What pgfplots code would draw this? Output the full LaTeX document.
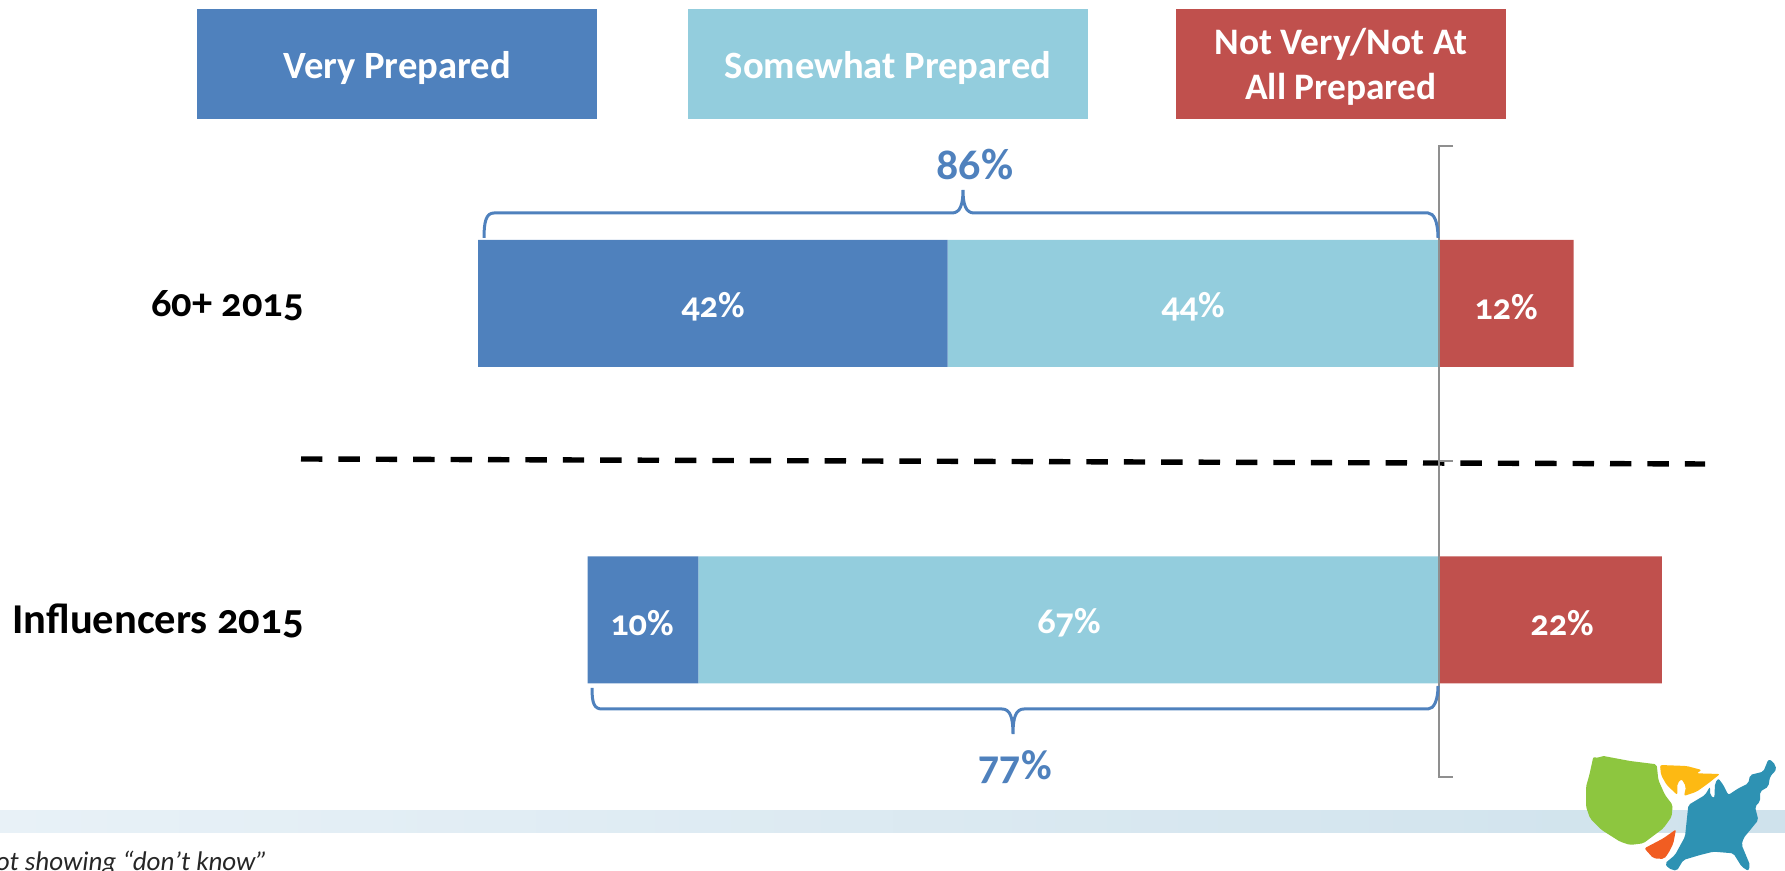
\documentclass[border=0pt]{standalone}
\usepackage{fontspec}
\setmainfont[Numbers=OldStyle]{Carlito}
\usepackage{pgfplots}
\usepackage{pgfplotstable}
\pgfplotsset{compat=1.18}
\definecolor{vp}{HTML}{4F81BD}
\definecolor{sp}{HTML}{93CDDD}
\definecolor{np}{HTML}{C0504D}
\definecolor{gl}{HTML}{8F8F8F}
\definecolor{bandl}{HTML}{E8F1F7}
\definecolor{bandr}{HTML}{CFE2EC}
\definecolor{lgreen}{HTML}{8DC63F}
\definecolor{lyellow}{HTML}{FDB913}
\definecolor{lorange}{HTML}{F15D22}
\definecolor{lblue}{HTML}{2E92B3}
\pgfplotstableread{
row offset very some notp
0 9.8 9.9 66.3 19.9
1 0 42 44 12
}\prep
\begin{document}
\begin{tikzpicture}
\clip (0,0) rectangle (892.5pt,435.5pt);
\begin{scope}[x=0.5pt,y=-0.5pt,yshift=435.5pt]
\shade[left color=bandl, right color=bandr] (0,811) rectangle (1785,833);
\end{scope}
\begin{axis}[
  at={(0,0)},anchor=south west,
  scale only axis,width=892.5pt,height=435.5pt,
  xmin=-42.755,xmax=116.905,ymin=-0.793,ymax=1.9589,
  axis lines=none,
  xbar stacked,bar width=63.5pt,
  clip=false,
]
\addplot[draw=none,fill=none] table[x=offset,y=row]{\prep};
\addplot[draw=none,fill=vp] table[x=very,y=row]{\prep};
\addplot[draw=none,fill=sp] table[x=some,y=row]{\prep};
\addplot[draw=none,fill=np] table[x=notp,y=row]{\prep};
\end{axis}
\begin{scope}[x=0.5pt,y=-0.5pt,yshift=435.5pt]
% bar labels
\tikzset{lab/.style={text=white,font=\fontsize{18.2}{20}\selectfont\bfseries}}
\node[lab] at (713,307) {42\%};
\node[lab] at (1193,307) {44\%};
\node[lab] at (1506,307) {12\%};
\node[lab] at (642,623) {10\%};
\node[lab] at (1069,623) {67\%};
\node[lab] at (1562,623) {22\%};
% legend
\fill[vp] (197,9) rectangle (597,119);
\fill[sp] (688,9) rectangle (1088,119);
\fill[np] (1176,9) rectangle (1506,119);
\tikzset{leg/.style={text=white,align=center,font=\fontsize{19.3}{22.8}\selectfont\bfseries}}
\node[leg] at (397,68) {Very Prepared};
\node[leg] at (888,68) {Somewhat Prepared};
\node[leg,font=\fontsize{18.7}{22.6}\selectfont\bfseries] at (1341,67) {Not Very/Not At\\All Prepared};
% categories
\tikzset{cat/.style={text=black,anchor=east,font=\fontsize{21.25}{23}\selectfont\bfseries}}
\node[cat,inner sep=0pt,font=\fontsize{20.2}{22}\selectfont\bfseries] at (304,306) {60+ 2015};
\node[cat,inner sep=0pt] at (304,621) {Influencers 2015};
% separators
\draw[black,line width=2.7pt,dash pattern=on 10.7pt off 8pt] (301,459) -- (1705,464);
\draw[gl,line width=1.2pt] (1453,146) -- (1439,146) -- (1439,777) -- (1453,777);
\draw[gl,line width=1.2pt] (1439,461) -- (1453,461);
% braces
\draw[vp,line width=1.5pt] (484,238) .. controls (484,222) and (486,213) .. (494,213) -- (952,213) .. controls (960,213) and (963,205) .. (963,190) .. controls (963,205) and (966,213) .. (974,213) -- (1428,213) .. controls (1434,213) and (1438,222) .. (1438,238);
\draw[vp,line width=1.5pt] (592,688) .. controls (592,703) and (594,709) .. (602,709) -- (1002,709) .. controls (1010,709) and (1013,717) .. (1013,734) .. controls (1013,717) and (1016,709) .. (1024,709) -- (1428,709) .. controls (1434,709) and (1438,700) .. (1438,686);
\node[text=vp,font=\fontsize{22}{24}\selectfont\bfseries] at (975,165) {86\%};
\node[text=vp,font=\fontsize{21}{23}\selectfont\bfseries] at (1015,767) {77\%};
% footnote
\node[anchor=base east,inner sep=0pt,text=black!85,font=\fontsize{13.5}{15}\selectfont\itshape] at (268,871) {Not showing “don’t know”};
\end{scope}
% logo
\begin{scope}[x=0.16667pt,y=-0.16667pt,shift={(690pt,95.5pt)},rounded corners=1pt]
\fill[lgreen] (640,230)--(655,235)--(665,227)--(750,243)--(830,253)--(835,300)--(855,345)--(878,375)--(875,410)--(850,445)--(790,490)--(750,495)--(720,485)--(665,450)--(630,415)--(618,380)--(618,320)--(628,285)--cycle;
\fill[lyellow] (840,255)--(920,258)--(965,270)--(950,280)--(1020,282)--(985,310)--(950,335)--(912,348)--(918,320)--(905,297)--(892,310)--(892,345)--(860,315)--(843,285)--cycle;
\fill[lorange] (888,448)--(880,490)--(865,520)--(852,537)--(820,535)--(793,505)--(850,475)--cycle;
\fill[lblue] (1165,238)--(1180,245)--(1190,268)--(1170,290)--(1165,320)--(1140,335)--(1140,365)--(1125,380)--(1135,420)--(1090,475)--(1085,495)--(1110,555)--(1105,573)--(1085,560)--(1060,520)--(1000,515)--(960,525)--(910,540)--(890,573)--(865,565)--(855,550)--(885,525)--(915,470)--(925,375)--(975,345)--(990,320)--(990,345)--(1003,355)--(1005,310)--(1015,295)--(1030,315)--(1045,345)--(1075,325)--(1105,310)--(1110,285)--(1150,275)--cycle;
\end{scope}
\end{tikzpicture}
\end{document}
